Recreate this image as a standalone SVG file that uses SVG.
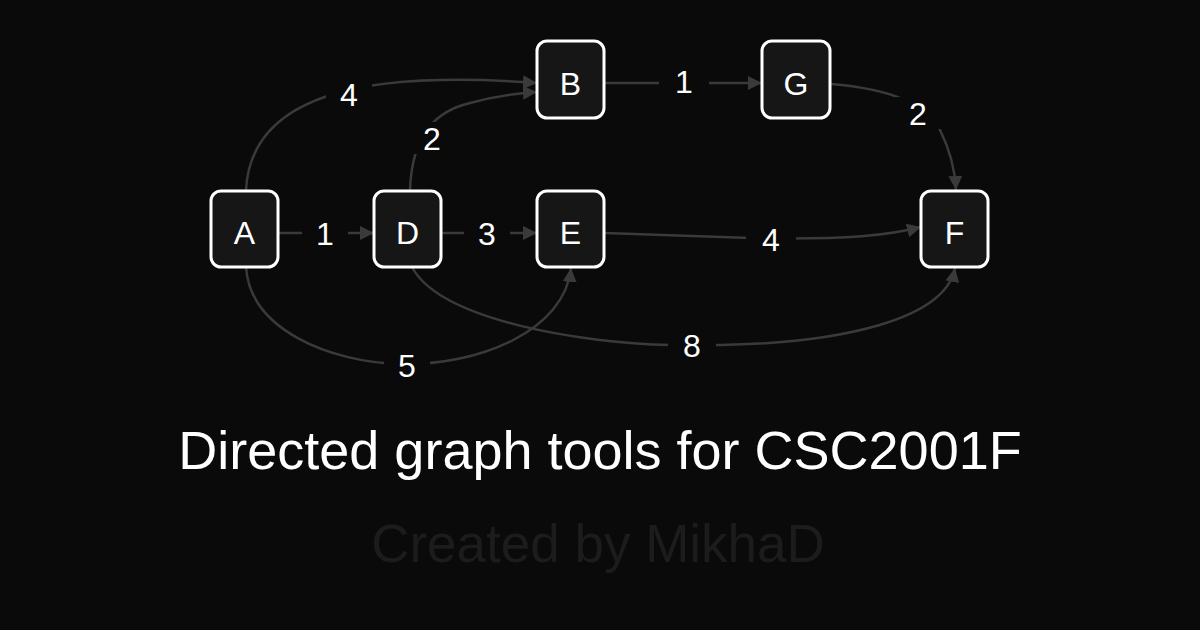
<svg xmlns="http://www.w3.org/2000/svg" width="1200" height="630" viewBox="0 0 1200 630">
<defs>
<marker id="arr" viewBox="0 0 10 10" refX="10" refY="5" markerWidth="14" markerHeight="14" markerUnits="userSpaceOnUse" orient="auto">
<path d="M0,0 L10,5 L0,10 z" fill="#3a3a3a"/>
</marker>
<style>
.node rect{fill:#161616;stroke:#ffffff;stroke-width:3}
.node text{fill:#ffffff;font-family:"Liberation Sans","DejaVu Sans",sans-serif;font-size:32px;text-anchor:middle}
.edge{fill:none;stroke:#3a3a3a;stroke-width:2.5;marker-end:url(#arr)}
.lbg{fill:#0a0a0a}
.lbl{fill:#ffffff;font-family:"Liberation Sans","DejaVu Sans",sans-serif;font-size:32px;text-anchor:middle}
</style>
</defs>
<rect width="1200" height="630" fill="#0a0a0a"/>
<g id="connectors">
<path class="edge" d="M279,233 L374,233"/>
<path class="edge" d="M442,233 L537,233"/>
<path class="edge" d="M246,190 C250,110 330,82 440,80 C490,79 520,82 537,83"/>
<path class="edge" d="M410,190 C412,130 440,110 470,103 C495,96 520,93 537,92"/>
<path class="edge" d="M605,83 L762,83"/>
<path class="edge" d="M831,84 C880,88 925,100 940,130 C950,150 955,170 956,190"/>
<path class="edge" d="M605,233 L750,238 C850,240 890,235 921,227"/>
<path class="edge" d="M246,267 C250,330 330,362 400,364 C480,366 565,330 571,268"/>
<path class="edge" d="M412,267 C440,320 580,343 670,345 L720,345 C840,343 945,320 955,268"/>
<rect class="lbg" x="302" y="218" width="46" height="32"/><text class="lbl" x="325" y="245">1</text>
<rect class="lbg" x="464" y="218" width="46" height="32"/><text class="lbl" x="487" y="245">3</text>
<rect class="lbg" x="326" y="79" width="46" height="32"/><text class="lbl" x="349" y="106">4</text>
<rect class="lbg" x="409" y="122" width="46" height="32"/><text class="lbl" x="432" y="150">2</text>
<rect class="lbg" x="659" y="66" width="50" height="32"/><text class="lbl" x="684" y="93">1</text>
<rect class="lbg" x="895" y="97" width="46" height="32"/><text class="lbl" x="918" y="125">2</text>
<rect class="lbg" x="746" y="223" width="50" height="32"/><text class="lbl" x="771" y="251">4</text>
<rect class="lbg" x="384" y="349" width="46" height="32"/><text class="lbl" x="407" y="377">5</text>
<rect class="lbg" x="668" y="329" width="48" height="32"/><text class="lbl" x="692" y="357">8</text>
</g>
<g id="node-A" class="node"><rect x="211" y="191" width="67" height="76" rx="10"/><text x="244.5" y="244">A</text></g>
<g id="node-D" class="node"><rect x="374" y="191" width="67" height="76" rx="10"/><text x="407.5" y="244">D</text></g>
<g id="node-E" class="node"><rect x="537" y="191" width="67" height="76" rx="10"/><text x="570.5" y="244">E</text></g>
<g id="node-B" class="node"><rect x="537" y="41" width="67" height="77" rx="10"/><text x="570.5" y="95">B</text></g>
<g id="node-G" class="node"><rect x="762" y="41" width="68" height="77" rx="10"/><text x="796" y="95">G</text></g>
<g id="node-F" class="node"><rect x="921" y="191" width="67" height="76" rx="10"/><text x="954.5" y="244">F</text></g>
<text x="600" y="469" fill="#ffffff" font-family="Liberation Sans, DejaVu Sans, sans-serif" font-size="54" text-anchor="middle">Directed graph tools for CSC2001F</text>
<text x="598" y="562" fill="#1c1c1c" font-family="Liberation Sans, DejaVu Sans, sans-serif" font-size="53" text-anchor="middle">Created by MikhaD</text>
</svg>
